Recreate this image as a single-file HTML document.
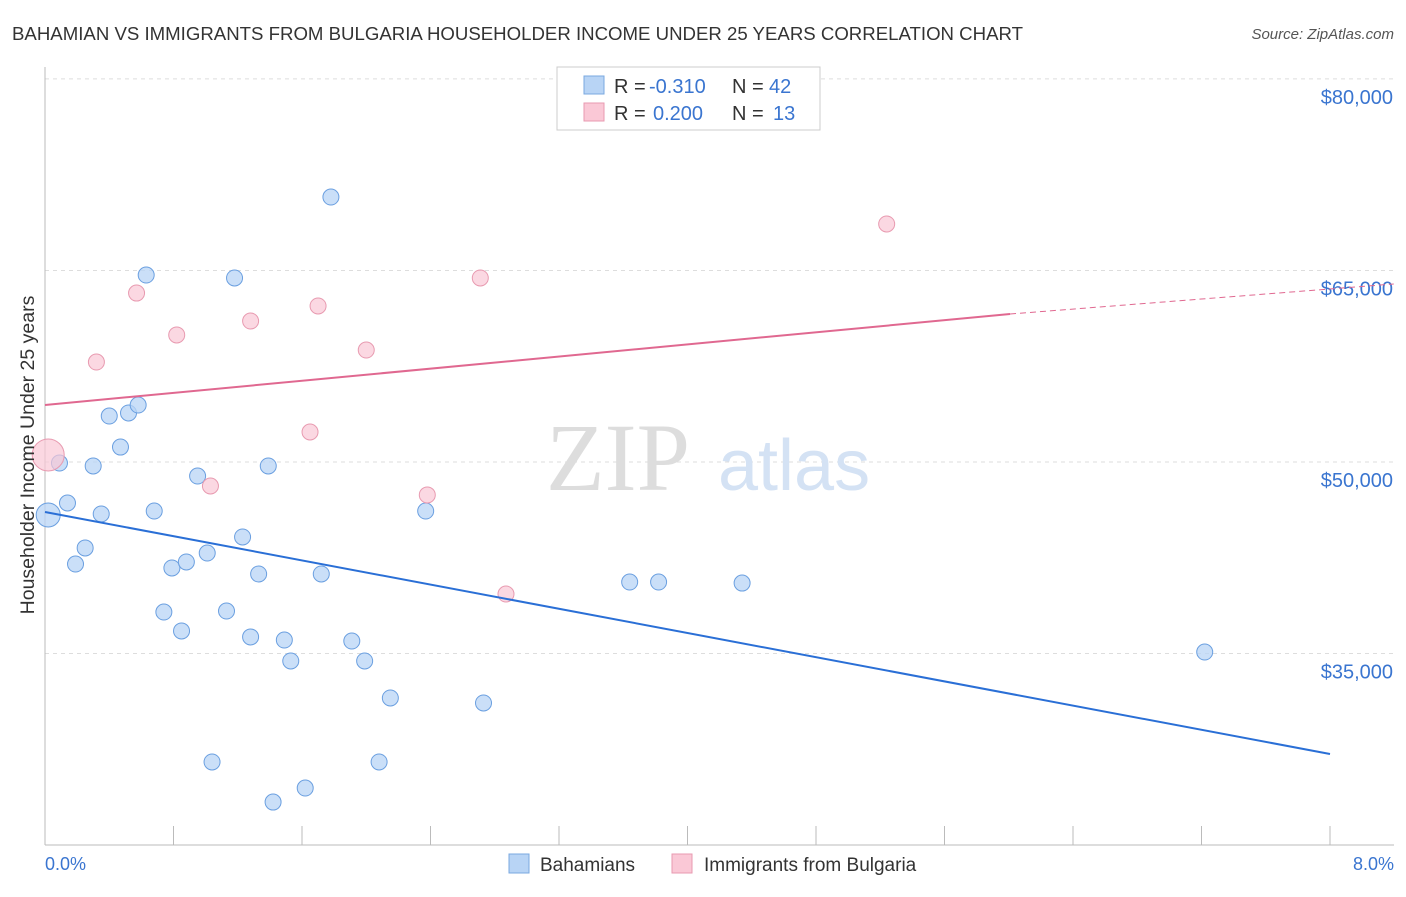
<!DOCTYPE html>
<html><head><meta charset="utf-8"><style>
body{margin:0;background:#fff;font-family:"Liberation Sans",sans-serif}
</style></head><body>
<svg id="chart" width="1406" height="892" xmlns="http://www.w3.org/2000/svg">
<text x="12" y="40" font-size="18" fill="#333" textLength="1011" lengthAdjust="spacingAndGlyphs">BAHAMIAN VS IMMIGRANTS FROM BULGARIA HOUSEHOLDER INCOME UNDER 25 YEARS CORRELATION CHART</text>
<text x="1394" y="39" font-size="15" fill="#555" text-anchor="end" font-style="italic">Source: ZipAtlas.com</text>
<g id="grid"></g>
<text x="690" y="490" font-size="96" fill="#ddd" text-anchor="end" font-family="Liberation Serif,serif">ZIP</text>
<text x="718" y="490" font-size="72" fill="#d4e2f4">atlas</text>
<g id="marks"></g>
<text x="34" y="455" font-size="19.5" fill="#333" text-anchor="middle" transform="rotate(-90 34 455)">Householder Income Under 25 years</text>
<text x="45" y="870" font-size="18" fill="#3a75d0">0.0%</text>
<text x="1394" y="870" font-size="18" fill="#3a75d0" text-anchor="end">8.0%</text>
<g>
<rect x="557" y="67" width="263" height="63" fill="#fff" stroke="#ccc"/>
<rect x="584" y="76" width="20" height="18" fill="#b8d4f5" stroke="#7aa8e0"/>
<rect x="584" y="103" width="20" height="18" fill="#fac8d6" stroke="#e89ab0"/>
<text x="614" y="93" font-size="20" fill="#333">R =</text>
<text x="649" y="93" font-size="20" fill="#3a75d0">-0.310</text>
<text x="732" y="93" font-size="20" fill="#333">N =</text>
<text x="769" y="93" font-size="20" fill="#3a75d0">42</text>
<text x="614" y="120" font-size="20" fill="#333">R =</text>
<text x="653" y="120" font-size="20" fill="#3a75d0">0.200</text>
<text x="732" y="120" font-size="20" fill="#333">N =</text>
<text x="773" y="120" font-size="20" fill="#3a75d0">13</text>
</g>
<g>
<rect x="509" y="854" width="20" height="19" fill="#b8d4f5" stroke="#7aa8e0"/>
<text x="540" y="871" font-size="19" fill="#333">Bahamians</text>
<rect x="672" y="854" width="20" height="19" fill="#fac8d6" stroke="#e89ab0"/>
<text x="704" y="871" font-size="19" fill="#333">Immigrants from Bulgaria</text>
</g>
</svg>
<script>
const yTicks=[35000,50000,65000,80000];
const yTickLabels=["$35,000","$50,000","$65,000","$80,000"];
const blueX=[0.02,0.14,0.09,0.19,0.25,0.30,0.35,0.40,0.47,0.52,0.58,0.63,0.68,0.74,0.79,0.85,0.88,0.95,1.01,1.04,1.13,1.18,1.23,1.28,1.33,1.39,1.42,1.49,1.53,1.62,1.72,1.78,1.91,1.99,2.08,2.15,2.37,2.73,3.64,3.82,4.34,7.22];
const blueY=[45850,46790,49920,42010,43270,49690,45930,53600,51170,53840,54460,64640,46160,38250,41700,36770,42170,48900,42870,26510,38330,64410,44130,36300,41230,49690,23370,36060,34420,24470,41230,70750,35980,34420,26510,31520,46160,31130,40600,40600,40520,35120];
const pinkX=[0.02,0.32,0.57,0.82,1.03,1.28,1.65,1.70,2.00,2.38,2.71,2.87,5.24];
const pinkY=[50550,57830,63230,59950,48120,61040,52350,62220,58770,47420,64410,39660,68640];
const blueTrend=[46085,27134];
const pinkTrend=[54464,61590,63940];
const pinkTrendX=[0,6.008,8.397];
const NS="http://www.w3.org/2000/svg";
const xs=v=>45+v/8*1285;
const ys=v=>462-(v-50000)/78.31;
function mk(t,a,p){const e=document.createElementNS(NS,t);for(const k in a)e.setAttribute(k,a[k]);p.appendChild(e);return e;}
const g=document.getElementById('grid'),m=document.getElementById('marks');
yTicks.forEach((t,i)=>{
 const l=mk('line',{x1:45,x2:1394,y1:ys(t),y2:ys(t),stroke:'#ddd','stroke-dasharray':'4,4'},g);
 
 
 const tx=mk('text',{x:1393,y:ys(t)+25,'font-size':20,fill:'#3a75d0','text-anchor':'end'},g);
 tx.textContent=yTickLabels[i];
 
 
});
mk('line',{x1:45,x2:45,y1:67,y2:845,stroke:'#bbb'},g);
mk('line',{x1:45,x2:1394,y1:845,y2:845,stroke:'#bbb'},g);
for(let i=0;i<=10;i++){const x=xs(i*0.8);mk('line',{x1:x,x2:x,y1:826,y2:845,stroke:'#bbb'},g);}
blueX.forEach((x,i)=>{
 const c=mk('circle',{cx:xs(x),cy:ys(blueY[i]),r:i==0?12:8,fill:'#b8d4f5','fill-opacity':0.75,stroke:'#6a9fe0','stroke-width':1},m);
 
 
});
pinkX.forEach((x,i)=>{
 const c=mk('circle',{cx:xs(x),cy:ys(pinkY[i]),r:i==0?16:8,fill:'#fac8d6','fill-opacity':0.7,stroke:'#e89ab0','stroke-width':1},m);
 
 
});
const bl=mk('line',{x1:xs(0),y1:ys(blueTrend[0]),x2:xs(8),y2:ys(blueTrend[1]),stroke:'#2a6fd6','stroke-width':2},m);


const pl=mk('line',{x1:xs(pinkTrendX[0]),y1:ys(pinkTrend[0]),x2:xs(pinkTrendX[1]),y2:ys(pinkTrend[1]),stroke:'#e06890','stroke-width':2},m);


const pd=mk('line',{x1:xs(pinkTrendX[1]),y1:ys(pinkTrend[1]),x2:xs(pinkTrendX[2]),y2:ys(pinkTrend[2]),stroke:'#e06890','stroke-width':1,'stroke-dasharray':'6,4'},m);


</script>
</body></html>
